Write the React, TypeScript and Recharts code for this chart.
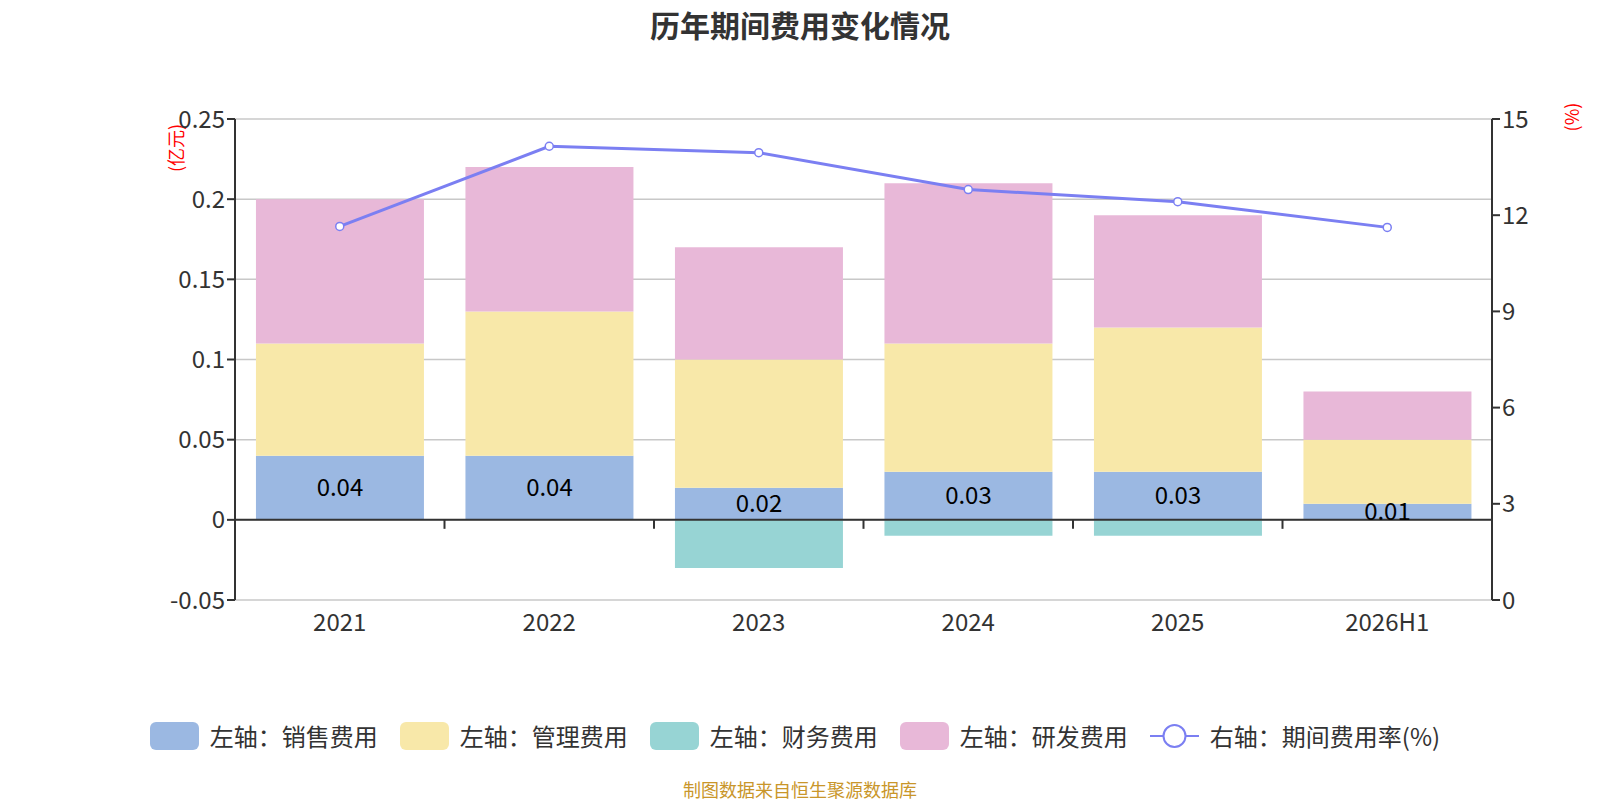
import React from "react";
import {
    ComposedChart,
    Bar,
    Line,
    XAxis,
    YAxis,
    CartesianGrid,
    ReferenceLine,
    LabelList
} from 'recharts';

const categories = ['2021', '2022', '2023', '2024', '2025', '2026H1'];
const salesExpense = [0.04, 0.04, 0.02, 0.03, 0.03, 0.01];
const adminExpense = [0.07, 0.09, 0.08, 0.08, 0.09, 0.04];
const financeExpense = [0, 0, -0.03, -0.01, -0.01, 0];
const rdExpense = [0.09, 0.09, 0.07, 0.1, 0.07, 0.03];
const expenseRate = [11.65, 14.15, 13.95, 12.8, 12.42, 11.62];

const leftTicks = [-0.05, 0, 0.05, 0.1, 0.15, 0.2, 0.25];
const rightTicks = [0, 3, 6, 9, 12, 15];

const COLORS = {
    sales: '#9bb8e2',
    admin: '#f8e8a9',
    finance: '#97d4d4',
    rd: '#e8b8d8',
    rate: '#7b7ff2'
};

const legendItems = [
    { name: '左轴：销售费用', color: COLORS.sales, type: 'bar' },
    { name: '左轴：管理费用', color: COLORS.admin, type: 'bar' },
    { name: '左轴：财务费用', color: COLORS.finance, type: 'bar' },
    { name: '左轴：研发费用', color: COLORS.rd, type: 'bar' },
    { name: '右轴：期间费用率(%)', color: COLORS.rate, type: 'line' }
];

const data = categories.map((year, i) => ({
    year,
    sales: salesExpense[i],
    admin: adminExpense[i],
    finance: financeExpense[i],
    rd: rdExpense[i],
    rate: expenseRate[i]
}));

const FONT = '"Noto Sans CJK SC", "Noto Sans", sans-serif';
const axisTick = { fill: '#333', fontSize: 24, fontFamily: FONT };

// zero line acts as the category axis, with ticks between the bands
const ZeroAxis = (props: any) => {
    const { x1, y1, x2 } = props;
    const step = (x2 - x1) / categories.length;
    return (
        <g>
            <line x1={x1} y1={y1} x2={x2} y2={y1} stroke="#333" strokeWidth={2} />
            {categories.slice(1).map((c, i) => (
                <line key={c} x1={x1 + step * (i + 1)} y1={y1} x2={x1 + step * (i + 1)} y2={y1 + 9} stroke="#333" strokeWidth={2} />
            ))}
        </g>
    );
};

export default function App() {
    return (
        <div style={{ position: 'absolute', left: 0, top: 0, width: 1600, height: 800, fontFamily: FONT, background: '#fff' }}>
            <div style={{ position: 'absolute', top: 2, left: 0, width: 1600, textAlign: 'center', fontSize: 30, fontWeight: 'bold', color: '#333' }}>
                历年期间费用变化情况
            </div>
            <div style={{ position: 'absolute', left: 175, top: 148, transform: 'translate(-50%, -50%) rotate(-90deg)', color: 'red', fontSize: 18, whiteSpace: 'nowrap' }}>
                (亿元)
            </div>
            <div style={{ position: 'absolute', left: 1571, top: 117, transform: 'translate(-50%, -50%) rotate(-90deg)', color: 'red', fontSize: 18, whiteSpace: 'nowrap' }}>
                (%)
            </div>
            <ComposedChart
                width={1600}
                height={800}
                data={data}
                stackOffset="sign"
                barCategoryGap="10%"
                margin={{ top: 119, right: 48, left: 155, bottom: 160 }}
            >
                <CartesianGrid yAxisId="left" vertical={false} stroke="#c8c8c8" strokeWidth={1.5} />
                <XAxis dataKey="year" height={40} axisLine={false} tickLine={false} tickMargin={8} tick={axisTick} interval={0} />
                <YAxis
                    yAxisId="left"
                    width={80}
                    domain={[-0.05, 0.25]}
                    ticks={leftTicks}
                    tick={axisTick}
                    axisLine={{ stroke: '#333', strokeWidth: 2 }}
                    tickLine={{ stroke: '#333', strokeWidth: 2 }}
                    tickSize={8}
                    interval={0}
                />
                <YAxis
                    yAxisId="right"
                    orientation="right"
                    width={60}
                    domain={[0, 15]}
                    ticks={rightTicks}
                    tick={axisTick}
                    axisLine={{ stroke: '#333', strokeWidth: 2 }}
                    tickLine={{ stroke: '#333', strokeWidth: 2 }}
                    tickSize={8}
                    interval={0}
                />
                <Bar yAxisId="left" dataKey="sales" stackId="a" fill={COLORS.sales} isAnimationActive={false}>
                    <LabelList dataKey="sales" position="center" fill="#000" fontSize={24} fontFamily={FONT} />
                </Bar>
                <Bar yAxisId="left" dataKey="admin" stackId="a" fill={COLORS.admin} isAnimationActive={false} />
                <Bar yAxisId="left" dataKey="finance" stackId="a" fill={COLORS.finance} isAnimationActive={false} />
                <Bar yAxisId="left" dataKey="rd" stackId="a" fill={COLORS.rd} isAnimationActive={false} />
                <ReferenceLine yAxisId="left" y={0} shape={ZeroAxis} />
                <Line
                    yAxisId="right"
                    dataKey="rate"
                    stroke={COLORS.rate}
                    strokeWidth={3}
                    dot={{ r: 4, fill: '#fff', stroke: COLORS.rate, strokeWidth: 1.5 }}
                    isAnimationActive={false}
                />
            </ComposedChart>
            <div style={{ position: 'absolute', top: 718, left: 0, width: 1590, display: 'flex', justifyContent: 'center', gap: 22, fontSize: 24, color: '#333' }}>
                {legendItems.map(item => (
                    <div key={item.name} style={{ display: 'flex', alignItems: 'center', gap: 11 }}>
                        {item.type === 'bar' ? (
                            <div style={{ width: 49, height: 28, borderRadius: 6, background: item.color }} />
                        ) : (
                            <svg width={49} height={28}>
                                <line x1={0} y1={14} x2={49} y2={14} stroke={item.color} strokeWidth={2} />
                                <circle cx={24.5} cy={14} r={11} fill="#fff" stroke={item.color} strokeWidth={2} />
                            </svg>
                        )}
                        <span>{item.name}</span>
                    </div>
                ))}
            </div>
            <div style={{ position: 'absolute', top: 776, left: 0, width: 1600, textAlign: 'center', fontSize: 18, color: '#c9962a' }}>
                制图数据来自恒生聚源数据库
            </div>
        </div>
    );
}
